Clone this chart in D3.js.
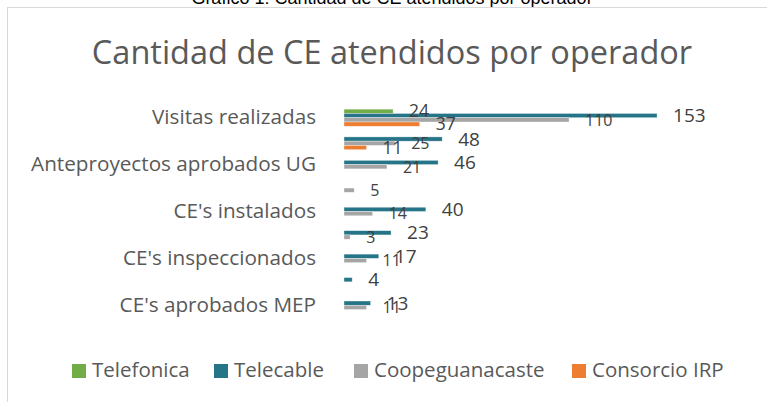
<!DOCTYPE html>
<html>
<head>
<meta charset="utf-8">
<script src="https://cdn.jsdelivr.net/npm/d3@7"></script>
<style>
  body { margin: 0; background: #fff; }
  svg { display: block; font-family: "Open Sans", sans-serif; }
</style>
</head>
<body>
<svg id="chart"></svg>
<script>
// Data
const categories = ["Visitas realizadas", "", "Anteproyectos aprobados UG", "", "CE's instalados", "", "CE's inspeccionados", "", "CE's aprobados MEP"];
const seriesNames = ["Telefonica", "Telecable", "Coopeguanacaste", "Consorcio IRP"];
const telefonica = [24, null, null, null, null, null, null, null, null];
const telecable = [153, 48, 46, null, 40, 23, 17, 4, 13];
const coopeguanacaste = [110, 25, 21, 5, 14, 3, 11, null, 11];
const consorcio = [37, 11, null, null, null, null, null, null, null];
const xTicks = [0, 180];

// Configurations
let width = 767;
let height = 402;
let marginLeft = 344; // where bars start
let plotTop = 106;
let plotBottom = 317;
let colors = ["#70ad47", "#267487", "#a5a5a5", "#ed7d31"];
let labelSizes = [17.5, 19, 16, 17.5];

const valuesBySeries = [telefonica, telecable, coopeguanacaste, consorcio];
const data = [];
valuesBySeries.forEach((vals, s) => vals.forEach((v, i) => {
    if (v != null) data.push({cat: i, series: seriesNames[s], value: v});
}));

const svg = d3.select("#chart")
    .attr("width", width)
    .attr("height", height)
    .attr("viewBox", [0, 0, width, height]);

// Scales
const xScale = d3.scaleLinear(xTicks, [marginLeft, marginLeft + 180 * 2.046]);
const yScale = d3.scaleBand(d3.range(categories.length), [plotTop, plotBottom])
    .paddingInner(0.27).paddingOuter(0.135);
const ySub = d3.scaleBand(seriesNames, [0, yScale.bandwidth()]);
const color = d3.scaleOrdinal(seriesNames, colors);
const fontSize = d3.scaleOrdinal(seriesNames, labelSizes);

// Caption above the chart (cut by the page edge)
svg.append("text")
    .attr("x", 392)
    .attr("y", 4)
    .attr("text-anchor", "middle")
    .attr("font-family", "Liberation Sans, Arial, sans-serif")
    .attr("font-size", 18)
    .attr("fill", "#000")
    .text("Gráfico 1: Cantidad de CE atendidos por operador");

// Chart frame
svg.append("rect")
    .attr("x", 7.5)
    .attr("y", 7.5)
    .attr("width", 800)
    .attr("height", 420)
    .attr("fill", "none")
    .attr("stroke", "#d9d9d9");

// Title
svg.append("text")
    .attr("x", 392)
    .attr("y", 64)
    .attr("text-anchor", "middle")
    .attr("font-size", 32.5)
    .attr("fill", "#595959")
    .text("Cantidad de CE atendidos por operador");

// Category axis
svg.append("g")
    .attr("transform", `translate(${marginLeft},0)`)
    .call(d3.axisLeft(yScale)
        .tickValues(d3.range(0, categories.length, 2))
        .tickFormat(i => categories[i])
        .tickSize(0)
        .tickPadding(28))
    .call(g => g.select(".domain").remove())
    .call(g => g.selectAll("text")
        .attr("font-family", "Open Sans, sans-serif")
        .attr("font-size", 20.7)
        .attr("fill", "#595959"));

// Bars
svg.append("g")
    .selectAll("rect")
    .data(data)
    .join("rect")
    .attr("x", xScale(0))
    .attr("y", d => yScale(d.cat) + ySub(d.series))
    .attr("width", d => xScale(d.value) - xScale(0))
    .attr("height", ySub.bandwidth())
    .attr("fill", d => color(d.series))
    .attr("stroke", "#ffffff")
    .attr("stroke-opacity", 0.6)
    .attr("stroke-width", 0.6);

// Data labels
svg.append("g")
    .selectAll("text")
    .data(data)
    .join("text")
    .attr("x", d => xScale(d.value) + 16)
    .attr("y", d => yScale(d.cat) + ySub(d.series) + ySub.bandwidth() / 2 + 1.5)
    .attr("dominant-baseline", "middle")
    .attr("font-size", d => fontSize(d.series))
    .attr("fill", "#404040")
    .text(d => d.value);

// Legend
const legendX = [72, 214, 354, 572];
const legend = svg.append("g")
    .selectAll("g")
    .data(seriesNames)
    .join("g")
    .attr("transform", (d, i) => `translate(${legendX[i]},364)`);

legend.append("rect")
    .attr("width", 14)
    .attr("height", 14)
    .attr("fill", d => color(d));

legend.append("text")
    .attr("x", 20)
    .attr("y", 7.5)
    .attr("dominant-baseline", "middle")
    .attr("font-size", 20.5)
    .attr("fill", "#595959")
    .text(d => d);
</script>
</body>
</html>
